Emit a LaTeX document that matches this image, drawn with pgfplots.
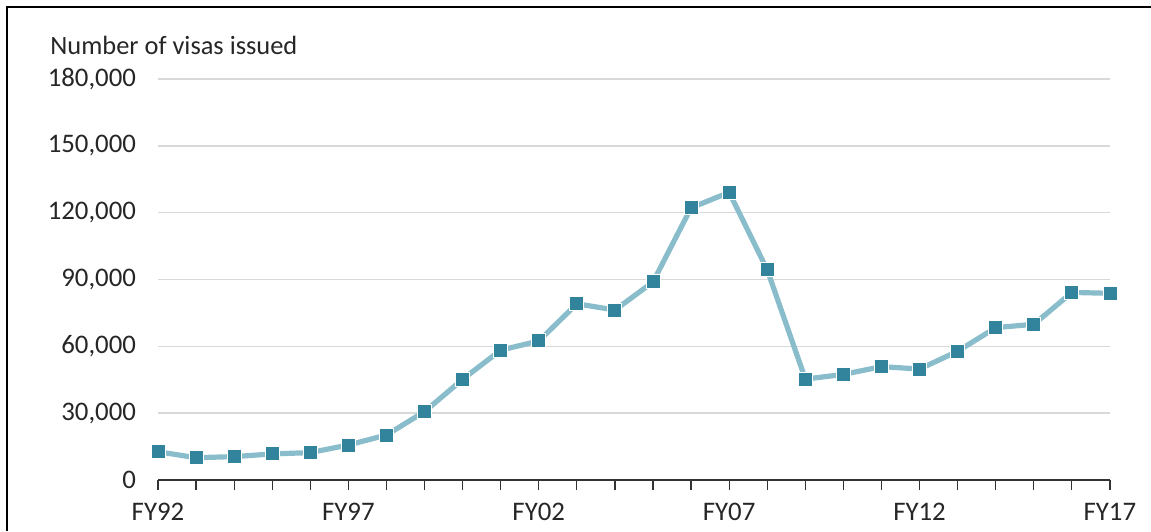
\documentclass[border=0pt]{standalone}
\usepackage{pgfplots}
\pgfplotsset{compat=1.18}
\usepackage{fontspec}
\setmainfont{Carlito}
\definecolor{linec}{HTML}{8ABDCB}
\definecolor{markc}{HTML}{31849B}
\definecolor{gridc}{HTML}{D9D9D9}
\begin{document}
\begin{tikzpicture}
\useasboundingbox (0,0) rectangle (575.5pt,265.5pt);
\draw[black, line width=1pt] (3.5pt,0) -- (3.5pt,262pt) -- (575.5pt,262pt);
\node[anchor=base west, inner sep=0pt, font=\fontsize{13.2}{15}\selectfont, text=black!85] at (25pt,238pt) {Number of visas issued};
\begin{axis}[
  at={(79pt,25.5pt)}, anchor=south west,
  scale only axis, width=476pt, height=200.5pt,
  xmin=1992, xmax=2017, ymin=0, ymax=180000,
  axis x line*=bottom, axis y line*=left,
  x axis line style={black!80, line width=0.8pt, -},
  y axis line style={draw=none},
  xtick={1992,...,2017},
  xticklabels={FY92,,,,,FY97,,,,,FY02,,,,,FY07,,,,,FY12,,,,,FY17},
  tick align=outside, major tick length=5pt,
  xtick style={black!80, line width=0.6pt},
  ytick={0,30000,...,180000},
  scaled y ticks=false,
  ymajorgrids, grid style={gridc, line width=0.75pt},
  ytick style={draw=none},
  yticklabels={0,{30,000},{60,000},{90,000},{120,000},{150,000},{180,000}},
  ticklabel style={font=\fontsize{13.4}{15}\selectfont, text=black!85},
  xticklabel style={yshift=-3pt},
  yticklabel style={xshift=-2.5pt},
  clip=false,
]
\addplot[linec, line width=2.6pt, mark=square*, mark size=3.5pt,
  mark options={fill=markc, draw=white, line width=0.5pt}]
coordinates {
(1992,12700) (1993,10000) (1994,10500) (1995,11700) (1996,12300)
(1997,15700) (1998,20200) (1999,30700) (2000,45200) (2001,58300)
(2002,62400) (2003,79100) (2004,76300) (2005,88900) (2006,122200)
(2007,129100) (2008,94300) (2009,45300) (2010,47400) (2011,50900)
(2012,49800) (2013,57800) (2014,68400) (2015,69900) (2016,84200)
(2017,83800)
};
\end{axis}
\end{tikzpicture}
\end{document}
